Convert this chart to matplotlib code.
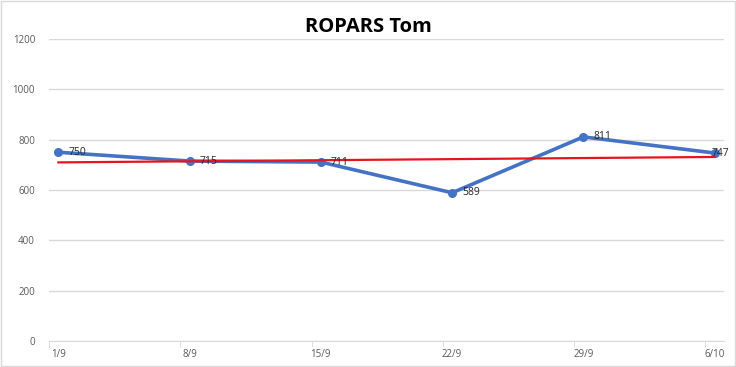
import numpy as np
import matplotlib.pyplot as plt
from matplotlib.patches import Rectangle

# Data
dates = ['1/9', '8/9', '15/9', '22/9', '29/9', '6/10']
days = [0, 7, 14, 21, 28, 35]
scores = [750, 715, 711, 589, 811, 747]

# Linear trend line
coef = np.polyfit(days, scores, 1)
trend = np.polyval(coef, days)

fig = plt.figure(figsize=(7.36, 3.67), dpi=100)
ax = fig.add_axes([49 / 736, 26 / 367, 675 / 736, 302 / 367])

ax.plot(days, scores, color='#4472C4', lw=2.6, marker='o', ms=5.5, zorder=3)
ax.plot(days, trend, color='#E8141B', lw=1.6, zorder=4)

for i, (d, v) in enumerate(zip(days, scores)):
    dx = 7 if i < len(days) - 1 else -2  # last label is pushed back inside
    ax.annotate(str(v), (d, v), xytext=(dx, 0), textcoords='offset points',
                va='center', ha='left', fontsize=7.5, color='#262626',
                family='Open Sans', zorder=5)

ax.set_xlim(-0.5, 35.5)
ax.set_ylim(0, 1200)
ax.set_yticks(range(0, 1201, 200))
ax.set_xticks(days)
ax.set_xticklabels(dates)
ax.set_xticks(np.arange(-0.5, 36, 7), minor=True)
ax.tick_params(axis='x', which='major', length=0, pad=6)
ax.tick_params(axis='x', which='minor', length=4, color='#D9D9D9')
ax.tick_params(axis='y', length=0, pad=10)
for lab in ax.get_xticklabels() + ax.get_yticklabels():
    lab.set_fontsize(7)
    lab.set_color('#595959')
    lab.set_family('Open Sans')

ax.grid(axis='y', color='#D9D9D9', lw=1)
ax.set_axisbelow(True)
for s in ['top', 'right', 'left']:
    ax.spines[s].set_visible(False)
ax.spines['bottom'].set_color('#D9D9D9')

fig.text(0.5, 1 - 27 / 367, 'ROPARS Tom', ha='center', va='center',
         fontsize=14.5, fontweight='bold', family='Open Sans', color='#000000')

fig.patches.append(Rectangle((0.002, 0.003), 0.996, 0.994, transform=fig.transFigure,
                             fill=False, edgecolor='#D9D9D9', lw=1))

fig.savefig('out.png', dpi=100)
